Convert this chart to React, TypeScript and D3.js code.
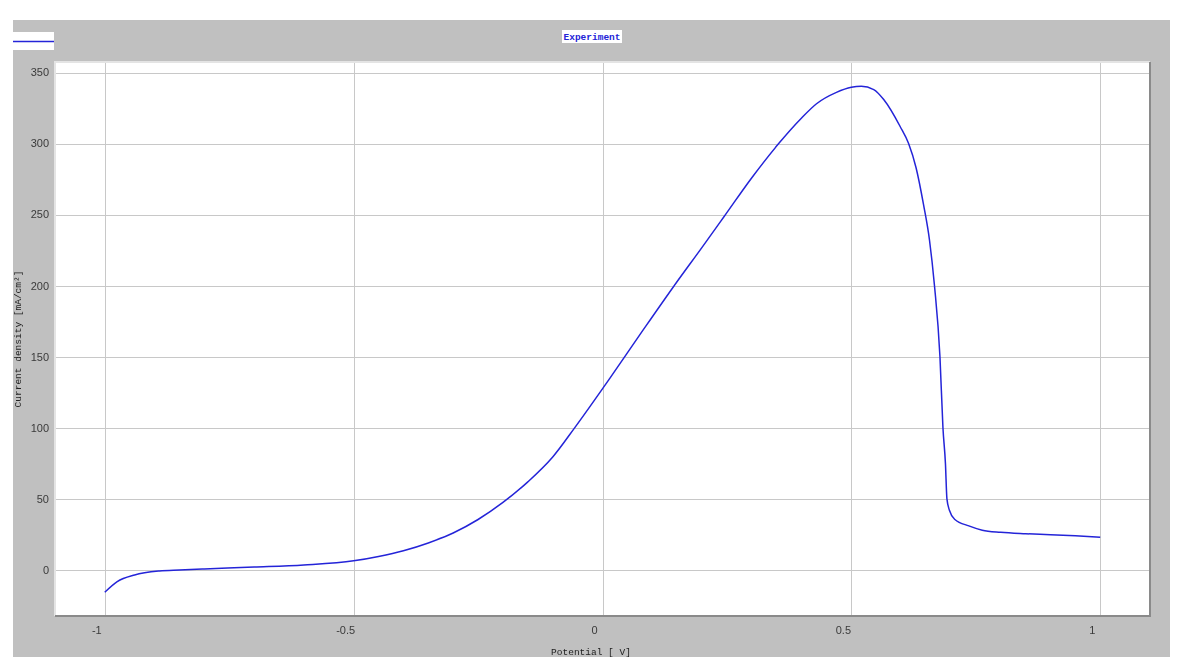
import React, { useEffect, useRef } from "react";
import * as d3 from "d3";

// potential [V] and current density [mA/cm2]
const potential = [
  -1, -0.975, -0.94, -0.89, -0.85, -0.8, -0.7, -0.6, -0.5, -0.45, -0.4, -0.35,
  -0.3, -0.25, -0.2, -0.15, -0.1, -0.056, 0.015, 0.08, 0.144, 0.2, 0.244, 0.3,
  0.354, 0.4, 0.43, 0.47, 0.5, 0.52, 0.545, 0.565, 0.598, 0.615, 0.63, 0.645,
  0.657, 0.667, 0.678, 0.684, 0.689, 0.692, 0.697, 0.708, 0.736, 0.763, 0.8,
  0.85, 0.9, 0.95, 1.0,
];
const current = [
  -15.7, -8.2, -3.5, -0.7, 0, 0.7, 2, 3.5, 6.4, 9.5, 13.5, 19,
  26, 35.5, 47.5, 62, 79.5, 100, 135, 168, 200, 227, 248.5, 276,
  300, 318, 328, 336, 339.6, 340.3, 338, 331, 312, 300, 283, 257,
  232, 200, 150, 100, 75, 50, 42, 35.5, 31, 28, 26.5,
  25.5, 24.8, 24, 23,
];
const xTicks = [-1, -0.5, 0, 0.5, 1];
const yTicks = [0, 50, 100, 150, 200, 250, 300, 350];
const seriesName = "Experiment";
const xTitle = "Potential [ V]";
const yTitle = "Current density [mA/cm\u00b2]";

export default function App() {
  const ref = useRef<SVGSVGElement>(null);

  useEffect(() => {
    const width = 1179;
    const height = 662;
    const plot = { left: 55, right: 1150, top: 62, bottom: 616 };
    const blue = "#2424d8";
    const mono = "'Liberation Mono', 'DejaVu Sans Mono', monospace";

    const svg = d3.select(ref.current).attr("viewBox", [0, 0, width, height]);
    svg.selectAll("*").remove();

    // frame
    svg.append("rect").attr("x", 13).attr("y", 20).attr("width", 1157).attr("height", 637).attr("fill", "#c0c0c0");

    const x = d3.scaleLinear().domain([-1.1, 1.1]).range([plot.left, plot.right]);
    const y = d3.scaleLinear().domain([-32.4, 357.4]).range([plot.bottom, plot.top]);

    svg.append("rect")
      .attr("x", plot.left).attr("y", plot.top)
      .attr("width", plot.right - plot.left).attr("height", plot.bottom - plot.top)
      .attr("fill", "#fff");

    // grid
    const grid = svg.append("g").attr("stroke", "#c8c8c8").attr("stroke-width", 1);
    grid.selectAll(".gx").data(xTicks).join("line")
      .attr("x1", d => Math.round(x(d)) + 0.5).attr("x2", d => Math.round(x(d)) + 0.5)
      .attr("y1", plot.top).attr("y2", plot.bottom);
    grid.selectAll(".gy").data(yTicks).join("line")
      .attr("y1", d => Math.round(y(d)) + 0.5).attr("y2", d => Math.round(y(d)) + 0.5)
      .attr("x1", plot.left).attr("x2", plot.right);

    // sunken border
    svg.append("path")
      .attr("d", `M${plot.left},${plot.bottom}V${plot.top}H${plot.right}`)
      .attr("fill", "none").attr("stroke", "#e4e4e4").attr("stroke-width", 2);
    svg.append("path")
      .attr("d", `M${plot.left},${plot.bottom}H${plot.right}V${plot.top}`)
      .attr("fill", "none").attr("stroke", "#8a8a8a").attr("stroke-width", 2);

    // tick labels
    svg.append("g").selectAll("text").data(yTicks).join("text")
      .attr("x", 49).attr("y", d => y(d)).attr("dy", "0.35em")
      .attr("text-anchor", "end")
      .attr("font-family", "'Liberation Sans', Arial, sans-serif").attr("font-size", 11)
      .attr("fill", "#3a3a3a")
      .text(d => d);
    svg.append("g").selectAll("text").data(xTicks).join("text")
      .attr("x", d => x(d) - 8).attr("y", 634)
      .attr("text-anchor", "middle")
      .attr("font-family", "'Liberation Sans', Arial, sans-serif").attr("font-size", 11)
      .attr("fill", "#3a3a3a")
      .text(d => d);

    // axis titles
    svg.append("text")
      .attr("x", 591).attr("y", 655).attr("text-anchor", "middle")
      .attr("font-family", mono).attr("font-size", 9.5).attr("fill", "#222")
      .text(xTitle);
    svg.append("text")
      .attr("transform", "translate(21,339) rotate(-90)").attr("text-anchor", "middle")
      .attr("font-family", mono).attr("font-size", 9.5).attr("fill", "#222")
      .text(yTitle);

    // legend swatch and series title
    svg.append("rect").attr("x", 13).attr("y", 32).attr("width", 41).attr("height", 18).attr("fill", "#fff");
    svg.append("line").attr("x1", 13).attr("x2", 54).attr("y1", 41.5).attr("y2", 41.5)
      .attr("stroke", blue).attr("stroke-width", 1.5);
    svg.append("rect").attr("x", 562).attr("y", 30).attr("width", 60).attr("height", 13).attr("fill", "#fff");
    svg.append("text")
      .attr("x", 592).attr("y", 40).attr("text-anchor", "middle")
      .attr("font-family", mono).attr("font-size", 9.5).attr("font-weight", "bold").attr("fill", blue)
      .text(seriesName);

    // curve
    const data = potential.map((p, i) => ({ p, c: current[i] }));
    svg.append("path")
      .datum(data)
      .attr("fill", "none")
      .attr("stroke", blue)
      .attr("stroke-width", 1.5)
      .attr("d", d3.line<{ p: number; c: number }>()
        .x(d => x(d.p))
        .y(d => y(d.c))
        .curve(d3.curveMonotoneX));
  }, []);

  return (
    <svg
      ref={ref}
      width={1179}
      height={662}
      style={{ position: "fixed", left: 0, top: 0, display: "block" }}
    />
  );
}
